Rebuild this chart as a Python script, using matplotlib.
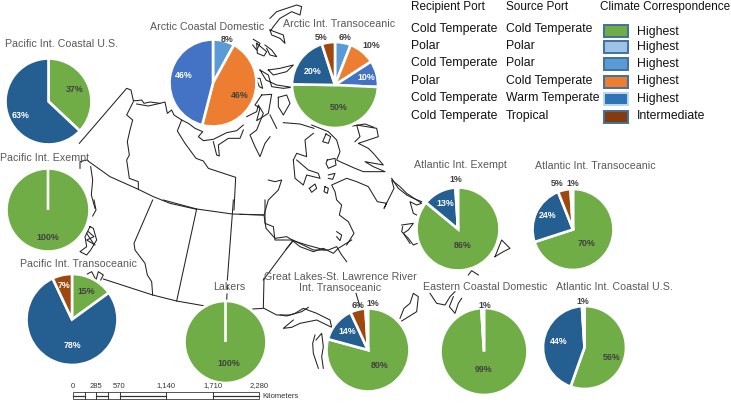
import matplotlib
matplotlib.use("Agg")
import matplotlib.pyplot as plt
from matplotlib.patches import Rectangle

plt.rcParams['font.family'] = ['Liberation Sans', 'DejaVu Sans']

W, H = 731, 403

# colours
GREEN = '#70AD47'
ORANGE = '#ED7D31'
BLUE = '#4472C4'
LBLUE = '#5B9BD5'
PALE = '#9DC3E6'
DBLUE = '#255E91'
BROWN = '#9E480E'

# pie values, clockwise from 12 o'clock
# the 0 in the 100% pies leaves the white seam the reference shows
pacific_coastal = [37, 63]
arctic_domestic = [8, 46, 46]
arctic_trans = [6, 10, 10, 50, 20, 5]
pacific_exempt = [100, 0]
pacific_trans = [15, 78, 7]
lakers = [100, 0]
great_lakes = [80, 14, 6, 1]
atlantic_exempt = [86, 13, 1]
atlantic_trans = [70, 24, 5, 1]
eastern_domestic = [99, 1]
atlantic_coastal = [56, 44, 1]

# legend
legend_headers = ['Recipient Port', 'Source Port', 'Climate Correspondence']
recipient_ports = ['Cold Temperate', 'Polar', 'Cold Temperate', 'Polar', 'Cold Temperate', 'Cold Temperate']
source_ports = ['Cold Temperate', 'Polar', 'Polar', 'Cold Temperate', 'Warm Temperate', 'Tropical']
correspondence = ['Highest', 'Highest', 'Highest', 'Highest', 'Highest', 'Intermediate']

# scale bar
scale_labels = ['0', '285', '570', '1,140', '1,710', '2,280']
scale_km = [0, 285, 570, 1140, 1710, 2280]
scale_ticks_km = [0, 142.5, 285, 427.5, 570, 1140, 1710, 2280]

# (title, values, colours, centre, radius, label positions, label colours, title position)
D, Wh = '#404040', 'white'
pies = [
    ('Pacific Int. Coastal U.S.', pacific_coastal, [GREEN, DBLUE], (48.5, 101.5), 43, [(75, 89), (21, 115)], [D, Wh], (62, 44)),
    ('Arctic Coastal Domestic', arctic_domestic, [LBLUE, ORANGE, BLUE], (213, 83), 43.5,
     [(227, 39), (240, 96), (184, 75)], [D, D, Wh], (207, 27)),
    ('Arctic Int. Transoceanic', arctic_trans, [LBLUE, ORANGE, BLUE, GREEN, DBLUE, BROWN], (335, 85), 43,
     [(345, 38), (371, 45), (366, 77), (339, 107), (313, 71), (321, 38)], [D, D, Wh, D, Wh, D], (339, 24)),
    ('Pacific Int. Exempt', pacific_exempt, [GREEN, GREEN], (48, 210), 41.5, [(48, 238)], [D], (45, 158)),
    ('Pacific Int. Transoceanic', pacific_trans, [GREEN, DBLUE, BROWN], (72, 319.5), 45.5,
     [(86, 291), (72, 346), (64, 286)], [D, Wh, Wh], (78, 264)),
    ('Lakers', lakers, [GREEN, GREEN], (225.5, 342), 41, [(229, 364)], [D], (229, 287)),
    ('Great Lakes-St. Lawrence River\nInt. Transoceanic', great_lakes, [GREEN, DBLUE, BROWN, PALE], (368, 350), 41.5,
     [(380, 366), (347, 332), (358, 306), (373, 304)], [D, Wh, D, D], (340, 282.5)),
    ('Atlantic Int. Exempt', atlantic_exempt, [GREEN, DBLUE, PALE], (458, 229), 41.5,
     [(463, 246), (445, 203), (456, 180)], [D, Wh, D], (460, 165)),
    ('Atlantic Int. Transoceanic', atlantic_trans, [GREEN, DBLUE, BROWN, PALE], (573, 229.5), 40.5,
     [(587, 244), (548, 216), (557, 183), (573, 183)], [D, Wh, D, D], (595, 166)),
    ('Eastern Coastal Domestic', eastern_domestic, [GREEN, PALE], (484, 351.5), 43.5,
     [(484, 369), (485, 305)], [D, D], (485, 287)),
    ('Atlantic Int. Coastal U.S.', atlantic_coastal, [GREEN, DBLUE, PALE], (584.5, 347.5), 41.5,
     [(612, 357), (559, 342), (583, 302)], [D, Wh, D], (614, 287)),
]


def crop(x0, y0, pts):
    return [(x0 + x / 3, y0 + y / 3) for x, y in pts]


map_lines = [
    # Alaska border, north coast
    crop(70, 80, [(28, 190), (170, 25), (183, 30), (190, 62), (200, 62), (215, 60), (222, 70), (240, 66), (270, 70),
                  (285, 66), (292, 100), (305, 90), (312, 105), (335, 120), (355, 130), (375, 145), (398, 155),
                  (385, 170), (400, 182), (430, 178), (470, 158), (500, 152), (520, 135)]),
    crop(70, 80, [(430, 185), (440, 225), (448, 228), (445, 195), (475, 175), (510, 175), (520, 150)]),
    crop(70, 80, [(200, 72), (235, 78), (270, 70)]),
    crop(70, 80, [(530, 110), (560, 95), (565, 75), (580, 100), (560, 150), (540, 165), (555, 200), (570, 230),
                  (585, 190), (600, 170)]),
    # Yukon / NWT
    crop(70, 80, [(190, 65), (170, 105), (188, 120), (180, 150), (172, 185), (178, 225), (170, 240), (178, 295),
                  (205, 305), (205, 328)]),
    # 60th parallel
    crop(70, 80, [(30, 265), (30, 245), (50, 240), (120, 290), (205, 328), (250, 350), (300, 370), (380, 388)]),
    crop(70, 200, [(280, 0), (380, 27), (487, 42), (580, 45)]),
    # NWT / Nunavut
    crop(70, 80, [(335, 120), (322, 153), (345, 190), (378, 235), (400, 243), (415, 265), (497, 292), (492, 390)]),
    crop(70, 200, [(490, 0), (487, 42), (472, 240)]),
    crop(70, 200, [(473, 255), (472, 268)]),
    crop(70, 200, [(471, 282), (470, 300)]),
    # BC coast
    crop(70, 80, [(62, 260), (68, 300), (64, 345), (75, 385)]),
    crop(70, 200, [(72, 0), (78, 30), (68, 48)]),
    crop(70, 200, [(60, 80), (45, 110), (50, 140), (30, 155), (50, 165), (62, 150), (80, 120), (70, 85), (60, 80)]),
    crop(70, 200, [(50, 100), (70, 130)]),
    crop(70, 200, [(55, 95), (72, 110), (50, 120), (75, 135)]),
    crop(70, 200, [(52, 222), (65, 215), (78, 240), (85, 215), (100, 225), (92, 240)]),
    # BC / Alberta, Alberta / Saskatchewan
    crop(70, 200, [(248, 0), (192, 130), (195, 150), (225, 190), (232, 225), (245, 245), (248, 285)]),
    crop(70, 200, [(380, 27), (320, 303)]),
    # US border
    crop(70, 200, [(100, 237), (248, 285), (320, 303), (400, 317)]),
    crop(0, 200, [(758, 327), (790, 325), (792, 235)]),
    crop(0, 200, [(792, 325), (830, 345), (870, 345), (905, 335), (925, 322)]),
    # Manitoba / Ontario, Ontario north
    crop(0, 200, [(795, 0), (795, 70), (820, 80), (825, 120), (878, 120), (940, 150), (985, 150), (1010, 140),
                  (1025, 165), (1040, 185)]),
    crop(0, 200, [(878, 122), (790, 240)]),
    crop(0, 200, [(1068, 280), (1080, 320)]),
    # Hudson Bay
    crop(240, 120, [(85, 180), (105, 185), (125, 180), (115, 210), (85, 240), (72, 285), (78, 325), (105, 355),
                    (140, 350), (160, 362), (200, 375), (255, 390)]),
    crop(240, 120, [(0, 283), (72, 285)]),
    crop(240, 120, [(160, 362), (138, 388)]),
    crop(240, 120, [(320, 375), (342, 340), (325, 305), (298, 285), (305, 255), (290, 240), (285, 215), (280, 205),
                    (275, 195), (320, 175), (350, 185), (385, 200), (400, 225), (412, 245), (440, 250), (432, 265),
                    (462, 205), (455, 180), (480, 200), (500, 220), (545, 250), (530, 255), (510, 245), (520, 280),
                    (530, 285)]),
    crop(240, 120, [(455, 175), (475, 205), (500, 225), (520, 235), (545, 245)]),
    crop(240, 120, [(485, 315), (520, 310), (505, 330), (490, 340), (510, 370)]),
    # Baffin
    crop(240, 120, [(345, 65), (360, 50), (350, 15), (410, 25), (415, 50), (355, 70), (385, 85), (400, 100), (430, 135),
                    (375, 125), (400, 140), (435, 155), (370, 155), (345, 145), (300, 125), (290, 120), (300, 95),
                    (290, 60), (265, 35), (215, 15)]),
    crop(240, 120, [(160, 120), (170, 100), (200, 110), (195, 60), (220, 40)]),
    crop(240, 120, [(160, 120), (165, 175), (190, 195), (200, 165), (240, 175), (235, 160), (205, 150), (170, 120)]),
    # islands in the bay
    crop(240, 120, [(258, 42), (272, 50), (265, 70), (248, 65), (258, 42)]),
    crop(240, 120, [(262, 120), (285, 115), (288, 135), (265, 145), (258, 130), (262, 120)]),
    crop(240, 120, [(208, 205), (225, 192), (230, 205), (215, 217), (208, 205)]),
    crop(240, 120, [(255, 200), (265, 205), (262, 220), (252, 215), (255, 200)]),
    crop(240, 120, [(265, 165), (285, 160), (278, 178), (265, 175)]),
    crop(240, 120, [(290, 335), (305, 345), (300, 362), (290, 350)]),
    # Arctic islands
    crop(240, 0, [(90, 55), (110, 35), (170, 15), (185, 20), (180, 45), (155, 35), (120, 55), (100, 80), (92, 92)]),
    crop(240, 0, [(90, 90), (130, 105), (135, 130), (120, 115), (95, 105), (90, 90)]),
    crop(240, 0, [(40, 118), (60, 130), (50, 150), (38, 135)]),
    crop(240, 0, [(50, 130), (80, 155), (72, 168), (52, 160), (50, 130)]),
    crop(240, 0, [(75, 135), (95, 150), (110, 170), (90, 165), (80, 145)]),
    crop(240, 0, [(85, 210), (120, 205), (160, 195), (140, 215), (100, 225), (85, 210)]),
    crop(240, 0, [(60, 210), (85, 225), (95, 260), (130, 265), (155, 262), (110, 255), (78, 240), (60, 210)]),
    crop(240, 0, [(48, 235), (58, 260), (68, 265), (60, 235), (48, 235)]),
    crop(240, 0, [(65, 285), (95, 283), (85, 340), (50, 362), (60, 325), (45, 315), (65, 285)]),
    crop(240, 0, [(115, 292), (140, 285), (150, 310), (130, 345), (115, 320), (115, 292)]),
    crop(240, 0, [(90, 345), (110, 385)]),
    crop(240, 0, [(130, 368), (180, 372), (222, 385)]),
    crop(240, 0, [(338, 378), (375, 372), (402, 382)]),
    # Great Lakes
    crop(280, 240, [(0, 225), (20, 228), (45, 220), (70, 205), (110, 220), (150, 240), (155, 262), (110, 240), (60, 250),
                    (35, 262), (10, 265), (40, 240)]),
    crop(280, 240, [(105, 285), (98, 310), (100, 340), (115, 385)]),
    crop(280, 240, [(108, 300), (125, 280), (130, 320), (125, 350), (130, 385)]),
    # Maritimes
    crop(280, 240, [(360, 235), (372, 205), (390, 190), (400, 160), (415, 170), (410, 215), (365, 243)]),
    crop(280, 240, [(450, 160), (470, 190), (495, 195), (510, 170), (525, 155)]),
    crop(280, 240, [(520, 170), (508, 200), (525, 220), (535, 190), (545, 175)]),
    crop(280, 240, [(35, 0), (60, 20), (100, 35), (130, 25), (160, 40), (175, 25), (215, 0)]),
    crop(380, 200, [(68, 80), (65, 95), (85, 115), (100, 135), (112, 130)]),
    crop(380, 200, [(345, 170), (365, 120), (390, 145), (370, 155), (345, 170)]),
    crop(380, 200, [(265, 225), (275, 212), (295, 225)]),
]

fig = plt.figure(figsize=(W / 100, H / 100), dpi=100)
ax = fig.add_axes([0, 0, 1, 1])


def Y(y):
    return H - y


for line in map_lines:
    ax.plot([p[0] for p in line], [Y(p[1]) for p in line], color='#222222', lw=0.75, zorder=1,
            solid_joinstyle='round')

# pies
for title, values, colours, centre, radius, label_pos, label_cols, title_pos in pies:
    ax.pie(values, colors=colours, startangle=90, counterclock=False, center=(centre[0], Y(centre[1])),
           radius=radius, wedgeprops=dict(edgecolor='white', linewidth=1.9, zorder=2))
    for value, pos, col in zip(values, label_pos, label_cols):
        ax.text(pos[0], Y(pos[1]), f'{value}%', color=col, fontsize=6.4, fontweight='bold',
                ha='center', va='center', zorder=4)
    ax.text(title_pos[0], Y(title_pos[1]), title, color='#595959', fontsize=7.7, ha='center', va='center',
            linespacing=1.05, zorder=5)

# legend
col_x = [411, 506, 600]
row_y = [29, 46, 63, 81, 98, 116]
LEG_SIZE = 8.8
for x, header in zip(col_x, legend_headers):
    ax.text(x, Y(7), header, fontsize=8.5, color='#111111', ha='left', va='center')
for y, rec, src in zip(row_y, recipient_ports, source_ports):
    ax.text(col_x[0], Y(y), rec, fontsize=LEG_SIZE, color='#111111', ha='left', va='center')
    ax.text(col_x[1], Y(y), src, fontsize=LEG_SIZE, color='#111111', ha='left', va='center')

swatch_fill = [GREEN, PALE, LBLUE, ORANGE, '#2E75B6', '#843C0C']
swatch_edge = ['#41719C', '#41719C', '#41719C', '#41719C', '#BDD7EE', '#41719C']
swatch_y = [31, 47, 64, 82, 99, 117]
label_y = [32, 47, 64, 81, 99, 116]
for i, text in enumerate(correspondence):
    ax.add_patch(Rectangle((604, Y(swatch_y[i] + 6)), 24, 12, facecolor=swatch_fill[i], edgecolor=swatch_edge[i],
                           lw=1.4, zorder=3))
    ax.text(637, Y(label_y[i]), text, fontsize=LEG_SIZE, color='#111111', ha='left', va='center')


# scale bar
def km_x(km):
    return 73 + km * 186 / 2280


for label, km in zip(scale_labels, scale_km):
    ax.text(km_x(km), Y(386), label, fontsize=5.5, color='#333333', ha='center', va='center')
ax.add_patch(Rectangle((km_x(0), Y(399)), km_x(2280) - km_x(0), 7, facecolor='white', edgecolor='#555555', lw=0.7))
for km in scale_ticks_km[1:-1]:
    ax.plot([km_x(km)] * 2, [Y(392), Y(399)], color='#333333', lw=0.7)
for a, b in [(0, 142.5), (285, 427.5), (570, 1140), (1710, 2280)]:
    ax.plot([km_x(a), km_x(b)], [Y(395.5), Y(395.5)], color='#333333', lw=0.9)
ax.text(262, Y(396), 'Kilometers', fontsize=5.5, color='#333333', ha='left', va='center')

ax.set_xlim(0, W)
ax.set_ylim(0, H)
ax.set_aspect('auto')
ax.axis('off')

fig.savefig('out.png', dpi=100, facecolor='white')
